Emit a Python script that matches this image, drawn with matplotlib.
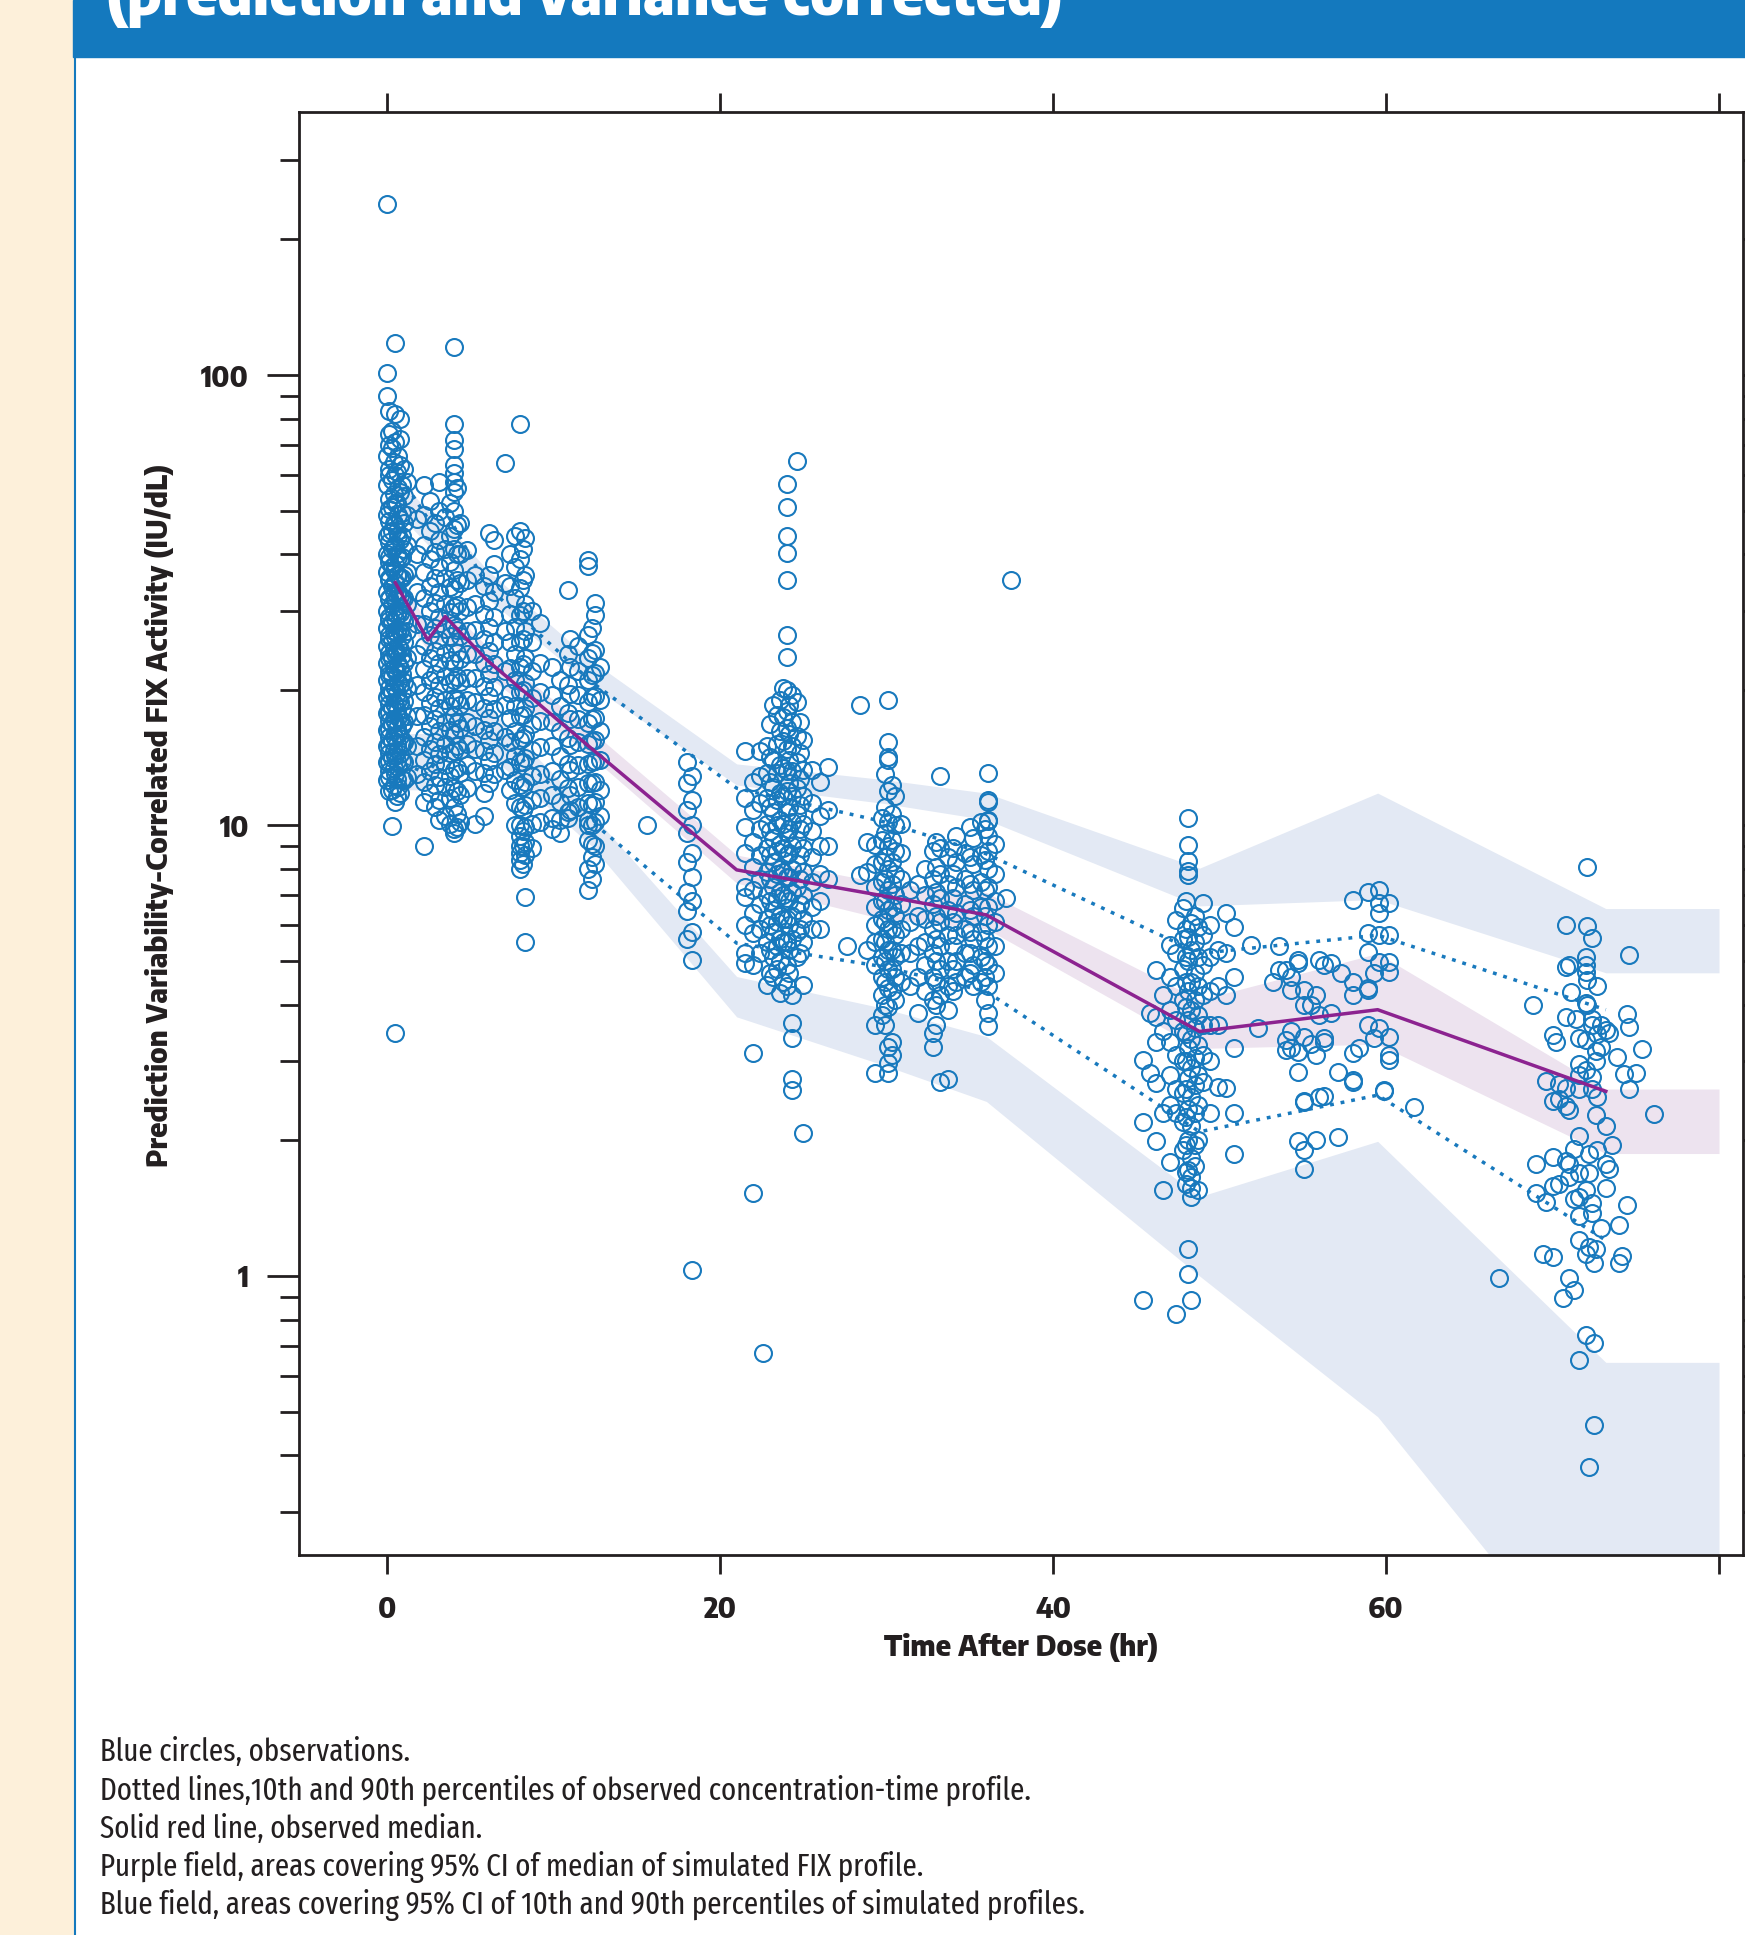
import matplotlib
matplotlib.use("Agg")
import matplotlib.pyplot as plt
from matplotlib import font_manager
from matplotlib.font_manager import FontProperties
from matplotlib.textpath import TextPath
from matplotlib.patches import Rectangle
from matplotlib.lines import Line2D


# ---------- font: among the installed condensed sans faces, take the one whose
# proportions (sample width / cap height) are closest to the original's
def shape_ratio(path, sample):
    prop = FontProperties(fname=path)
    w = TextPath((0, 0), sample, size=100, prop=prop).get_extents().width
    h = TextPath((0, 0), "H", size=100, prop=prop).get_extents().height
    return w / h


def choose_font(bold, sample, target):
    best = None
    seen = set()
    for f in font_manager.fontManager.ttflist:
        nm = f.name.lower()
        cond = ("narrow" in nm or "condensed" in nm
                or str(f.stretch) in ("condensed", "semi-condensed", "extra-condensed", "ultra-condensed"))
        if not cond or f.style != "normal" or f.fname in seen:
            continue
        if any(k in nm for k in ("mono", "serif", "cjk", "math", "symbol", "emoji", "display")):
            continue
        w = f.weight if isinstance(f.weight, int) else font_manager.weight_dict.get(f.weight, 400)
        if bold and not (600 <= w <= 800):
            continue
        if not bold and not (350 <= w <= 500):
            continue
        seen.add(f.fname)
        if len(seen) > 30:
            break
        try:
            r = shape_ratio(f.fname, sample)
        except Exception:
            continue
        score = abs(r - target)
        if best is None or score < best[0]:
            best = (score, f.fname)
    return best[1] if best else None


bold_file = choose_font(True, "Time After Dose (hr)", 275 / 22.0)
reg_file = choose_font(False, "Blue field, areas covering 95% CI of 10th", 488 / 22.7)


def fp(bold=False):
    path = bold_file if bold else reg_file
    if path:
        return FontProperties(fname=path)
    return FontProperties(family="DejaVu Sans", weight="bold" if bold else "normal")


# ---------------- data ----------------
# observations: (time after dose, [FIX activity values])
obs_0h = [
    (0.0, [240, 101, 90, 66, 57, 49, 44, 40, 36.5, 33, 30, 27.5, 25, 23, 21, 19.3, 17.8, 16.3, 15, 13.8, 12.6]),
    (0.1, [70, 60, 50.5, 44.5, 39.5, 35.5, 31.8, 28.6, 25.9, 23.6, 21.6, 19.6, 17.9, 16.4, 15.1, 13.9, 12.8, 11.9]),
    (0.15, [83, 74, 62, 53, 47.5, 42.5, 38.5, 35, 32, 29, 26.5, 24.2, 22, 20.2, 18.6, 17.1, 15.7, 14.5, 13.2]),
    (0.3, [75, 69, 58.5, 51, 45, 41, 37.5, 34, 31, 28.3, 25.8, 23.5, 21.5, 19.8, 18.2, 16.8, 15.4, 14.1, 12, 9.95]),
    (0.4, [64, 54.5, 47, 41.5, 37, 33, 29.8, 27, 24.6, 22.4, 20.4, 18.7, 17.2, 15.8, 14.6, 13.4, 12.3]),
    (0.5, [118, 82, 71, 60, 52, 46.5, 42, 38, 34.8, 31.6, 28.8, 26.2, 24, 22, 20.2, 18.5, 17, 15.6, 14.3, 13, 11.3, 3.46]),
    (0.58, [61, 52, 45, 40, 36, 32.5, 29.3, 26.6, 24.2, 21.8, 19.7, 18, 16.5, 15.2, 13.9, 12.7, 11.6]),
    (0.65, [66, 56, 49, 44, 39.5, 36, 33, 30, 27.3, 25, 22.8, 20.8, 19, 17.4, 16, 14.7, 13.5, 12.2]),
    (0.8, [80, 72, 63, 55, 48, 43, 39, 35.5, 32.4, 29.6, 27, 24.6, 22.4, 20.5, 18.8, 17.2, 15.8, 14.4, 11.8]),
    (0.9, [57, 49.5, 44, 39.5, 35.5, 32, 29, 26.3, 23.9, 21.7, 19.8, 18.1, 16.6, 15.2, 13.9, 12.7]),
    (1.0, [62, 54, 47, 41, 36, 32, 28.5, 25.5, 23, 20.8, 18.9, 17, 15.3, 13.8, 12.6]),
    (1.2, [58, 49, 42, 36.5, 31, 27, 23.5, 20.2, 17.5, 15, 12.8]),
]
obs_3h = [
    (1.8, [48, 40, 33, 28, 24, 20.5, 17.5, 15, 13]),
    (2.2, [57, 49, 42, 36.5, 32, 28, 25, 22.2, 19.8, 17.6, 15.7, 14, 12.5, 11.3, 9.0]),
    (2.6, [52.5, 45, 39, 34, 30, 26.5, 23.5, 21, 18.7, 16.6, 14.8, 13.2, 11.8]),
    (2.9, [47, 40.5, 35.5, 31.2, 27.5, 24.4, 21.7, 19.3, 17.2, 15.3, 13.7, 12.3, 11]),
    (3.1, [58, 50, 43, 37.5, 33, 29, 25.8, 23, 20.5, 18.2, 16.2, 14.4, 12.8, 11.4, 10.3]),
    (3.5, [48.4, 41, 35.5, 31, 27.3, 24.2, 21.5, 19, 17, 15.2, 13.6, 12.2, 10.5]),
    (3.8, [52, 44, 38.5, 33.8, 29.8, 26.3, 23.3, 20.7, 18.4, 16.3, 14.5, 12.9, 11.5, 10.1]),
    (4.0, [115.6, 77.8, 71.7, 68.5, 63, 60.6, 58, 55.1, 50, 45.5, 41, 37, 33.5, 30.5, 27.8, 25.3, 23, 21,
           19.2, 17.5, 16, 14.6, 13.3, 12.1, 11, 9.8, 9.6]),
    (4.2, [56, 46.5, 40, 35, 30.8, 27.2, 24.1, 21.4, 19, 16.9, 15, 13.4, 11.9, 10.6, 9.9]),
    (4.4, [47, 40, 34.5, 30, 26.4, 23.4, 20.8, 18.5, 16.5, 14.7, 13.1, 11.7, 10.2]),
    (4.8, [40.9, 35, 30.5, 27, 24, 21.3, 19, 17, 15.2, 13.6, 12.1]),
    (5.3, [36, 31, 27.2, 24, 21.2, 18.8, 16.6, 14.8, 13.2, 10.1]),
]
obs_8h = [
    (5.8, [34, 29.5, 26, 23, 20.4, 18.2, 16.3, 14.6, 13.1, 11.8, 10.5]),
    (6.1, [44.6, 36, 31.5, 27.6, 24.4, 21.7, 19.4, 17.3, 15.5, 13.9, 12.4]),
    (6.4, [43, 38, 33, 29, 25.6, 22.8, 20.3, 18.1, 16.2, 14.5, 13]),
    (7.1, [63.7, 34.5, 27, 22, 18.5, 15.7, 13.3]),
    (7.4, [40, 34, 29.5, 25.6, 22.4, 19.7, 17.3, 15.3, 13.5, 12]),
    (7.7, [44, 37.5, 32, 27.6, 24, 21, 18.4, 16.2, 14.3, 12.6, 11.2, 10]),
    (8.0, [77.8, 45, 39, 33.7, 29.3, 25.6, 22.5, 19.8, 17.5, 15.5, 13.8, 12.3, 11, 10, 9.5, 9.0, 8.7, 8.4, 8.0]),
    (8.15, [41, 35, 30, 26, 22.8, 20, 17.6, 15.6, 13.8, 12.2, 10.8, 9.7, 9.0, 8.2]),
    (8.3, [43.5, 36, 31, 27, 23.6, 20.7, 18.2, 16, 14.1, 12.5, 11.1, 9.9, 9.2, 8.6, 6.95, 5.5]),
    (8.7, [30, 25.5, 22, 19.2, 16.8, 14.7, 12.9, 11.4, 10.1, 8.9]),
    (9.2, [28.1, 23, 19.8, 17.1, 14.9, 13, 11.5, 10.2]),
]
obs_12h = [
    (9.9, [22.5, 19.5, 17, 15, 13.2, 11.7, 10.4, 9.8]),
    (10.4, [21, 18.4, 16.2, 14.3, 12.7, 11.3, 10.3, 9.6]),
    (10.9, [33.3, 24, 20.5, 17.8, 15.6, 13.7, 12.1, 10.7, 10.4]),
    (11.0, [26, 22.5, 19.6, 17.2, 15.1, 13.3, 11.7, 10.8]),
    (11.5, [25, 22, 19.5, 17.2, 15.3, 13.6, 12.2, 11]),
    (12.1, [38.8, 37.6, 26.5, 23.5, 21, 18.8, 16.9, 15.2, 13.7, 12.4, 11.2, 10.3, 10, 9.3, 8.0, 7.19]),
    (12.3, [27.5, 24.2, 21.6, 19.3, 17.2, 15.4, 13.8, 12.4, 11.1, 10, 9.1, 8.5, 7.6]),
    (12.5, [31.2, 29.3, 24.5, 21.8, 19.4, 17.3, 15.5, 13.9, 12.5, 11.3, 10.2, 9, 8.2]),
    (12.8, [22.5, 19, 16.2, 14, 12, 10.5]),
]
obs_18h = [
    (15.6, [10.0]),
    (18.0, [13.8, 12.4, 10.8, 9.6, 8.3, 7.1, 6.45, 5.6]),
    (18.3, [12.9, 11.4, 10.0, 8.7, 7.7, 6.8, 5.8, 5.03, 1.03]),
]
obs_24h = [
    (21.5, [14.6, 11.5, 9.9, 8.7, 7.3, 6.95, 6.0, 5.2, 4.95]),
    (22.0, [12.5, 10.8, 9.2, 8.1, 7.2, 6.4, 5.77, 4.9, 3.13, 1.53]),
    (22.4, [14.6, 12.9, 11.2, 9.8, 8.6, 7.6, 6.7, 5.9, 5.2]),
    (22.6, [0.676]),
    (22.8, [15, 13.1, 11.5, 10.1, 8.9, 7.9, 7, 6.2, 5.5, 4.43]),
    (23.0, [16.8, 14.2, 12.5, 11, 9.7, 8.6, 7.6, 6.8, 6, 5.3, 4.7]),
    (23.2, [18.5, 14, 12.2, 10.7, 9.4, 8.3, 7.3, 6.5, 5.8, 5.1, 4.6]),
    (23.4, [17.6, 15.2, 13.1, 11.4, 10, 8.8, 7.8, 6.9, 6.1, 5.4, 4.8]),
    (23.6, [19, 16.2, 13.6, 11.8, 10.3, 9.1, 8, 7.1, 6.3, 5.6, 5.0, 4.25]),
    (23.8, [20.2, 17.4, 15.4, 13.4, 11.6, 10.1, 8.9, 7.9, 7, 6.2, 5.5, 4.5]),
    (24.0, [57.2, 51, 44, 40.2, 35.1, 26.5, 23.7, 20, 18, 16.5, 14.8, 13.2, 11.9, 10.7, 9.6, 8.6, 7.7, 6.9,
            6.2, 5.5, 4.9, 4.4]),
    (24.15, [18.5, 16, 14, 12.4, 11, 9.8, 8.7, 7.7, 6.8, 6, 5.3, 4.7]),
    (24.3, [19.5, 17, 15, 13.2, 11.6, 10.2, 9, 8, 7.1, 6.3, 5.6, 4.2, 3.64, 3.37, 2.73, 2.59]),
    (24.6, [64.5, 18.8, 15.8, 13.8, 12.1, 10.6, 9.3, 8.2, 7.3, 6.5, 5.8, 5.1]),
    (24.8, [17, 14.5, 12.7, 11.1, 9.8, 8.6, 7.6, 6.7, 5.9, 5.2]),
    (25.0, [15.5, 13.3, 11.6, 10.1, 8.9, 7.9, 7, 6.2, 5.5, 4.43, 2.08]),
    (25.5, [13.3, 11.2, 9.7, 8.5, 7.5, 6.6, 5.9]),
    (26.0, [12.5, 10.5, 9, 7.8, 6.8, 5.9]),
    (26.5, [13.5, 10.8, 9, 7.6]),
]
obs_30h = [
    (27.6, [5.4]),
    (28.4, [18.5, 7.77]),
    (28.8, [9.2, 7.9, 5.3]),
    (29.3, [9.05, 8.2, 7.3, 6.6, 6.0, 5.5, 4.9, 3.6, 2.82]),
    (29.7, [10.4, 9.3, 8.3, 7.5, 6.8, 6.2, 5.6, 5.1, 4.6, 4.2, 3.8]),
    (29.9, [13, 11, 9.6, 8.5, 7.6, 6.8, 6.1, 5.5, 5, 4.5, 4.0, 3.6]),
    (30.1, [19.0, 15.3, 14.2, 14.0, 11.9, 10.2, 9.0, 8.0, 7.2, 6.5, 5.9, 5.3, 4.8, 4.35, 3.95, 3.23, 2.97, 2.82]),
    (30.3, [12.3, 10.6, 9.3, 8.3, 7.4, 6.6, 5.9, 5.3, 4.8, 4.3, 3.3, 3.1]),
    (30.5, [11.6, 10.0, 8.8, 7.8, 7.0, 6.3, 5.7, 5.1, 4.6, 4.1]),
    (30.9, [10.1, 8.7, 7.6, 6.7, 5.9, 5.2, 4.5]),
    (31.4, [7.2, 6.1, 5.2, 4.4]),
]
obs_34h = [
    (31.9, [7.4, 6.3, 5.4, 4.6, 3.83]),
    (32.3, [8.0, 7.0, 6.2, 5.5, 4.9, 4.3]),
    (32.8, [8.8, 7.6, 6.7, 5.9, 5.2, 4.6, 4.1, 3.46, 3.23]),
    (33.0, [9.2, 8.1, 7.1, 6.3, 5.6, 5.0, 4.5, 4.0, 3.6]),
    (33.2, [12.9, 8.9, 7.8, 6.9, 6.1, 5.4, 4.8, 4.2, 2.70]),
    (33.7, [8.5, 7.4, 6.5, 5.7, 5.0, 4.4, 3.9, 2.73]),
    (34.0, [8.9, 7.8, 6.9, 6.1, 5.4, 4.8, 4.3]),
    (34.2, [9.5, 8.3, 7.3, 6.4, 5.7, 5.0, 4.5]),
    (34.7, [8.7, 7.6, 6.7, 5.9, 5.2, 4.6]),
    (35.0, [9.9, 8.5, 7.4, 6.5, 5.8, 5.2, 4.7]),
    (35.2, [9.4, 8.2, 7.2, 6.3, 5.6, 4.9, 4.4]),
    (35.7, [10.2, 8.6, 7.5, 6.6, 5.8, 5.1, 4.5]),
    (35.9, [9.8, 8.4, 7.2, 6.3, 5.6, 5.0, 4.6, 4.1]),
    (36.1, [13.1, 11.4, 11.3, 10.3, 10.25, 9.5, 8.8, 8.0, 7.3, 6.6, 6.0, 5.4, 4.9, 4.4, 3.83, 3.58]),
    (36.5, [9.1, 7.8, 6.8, 6.1, 5.4, 4.7]),
    (37.2, [6.9]),
    (37.5, [35.1]),
]
obs_48h = [
    (45.4, [3.02, 2.2, 0.885]),
    (45.8, [3.83, 2.82]),
    (46.2, [4.78, 3.76, 3.3, 2.68, 1.99]),
    (46.6, [4.2, 3.5, 2.3, 1.55]),
    (47.0, [5.43, 4.6, 3.9, 3.3, 2.8, 2.4, 1.79]),
    (47.4, [6.17, 5.2, 4.4, 3.7, 3.1, 2.6, 2.3, 0.822]),
    (47.8, [6.55, 5.6, 4.8, 4.1, 3.5, 3.0, 2.55, 2.2, 1.9]),
    (48.0, [6.8, 5.9, 5.1, 4.5, 3.95, 3.45, 3.0, 2.6, 2.25, 1.95, 1.7, 1.6]),
    (48.1, [10.4, 9.05, 8.36, 7.94, 7.77, 5.66, 5.0, 4.3, 3.7, 3.2, 2.75, 2.35, 2.0, 1.72, 1.15, 1.01]),
    (48.3, [6.07, 5.3, 4.5, 3.9, 3.35, 2.9, 2.5, 2.15, 1.83, 1.66, 1.57, 1.50, 0.885]),
    (48.5, [6.3, 5.5, 4.7, 4.1, 3.55, 3.05, 2.65, 2.3, 1.95, 1.75]),
    (48.7, [5.95, 5.1, 4.4, 3.8, 3.25, 2.8, 2.4, 2.0, 1.55]),
    (49.0, [6.73, 5.7, 4.9, 4.2, 3.6, 3.1, 2.7]),
    (49.4, [6.0, 5.1, 4.3, 3.6, 3.0, 2.3]),
    (49.9, [5.3, 4.4, 3.6, 2.63]),
    (50.4, [6.38, 5.2, 4.2, 2.61]),
    (50.9, [5.96, 4.6, 3.2, 2.3, 1.87]),
]
obs_56h = [
    (51.9, [5.43]),
    (52.3, [3.55]),
    (53.2, [4.5]),
    (53.6, [4.78, 5.4]),
    (54.0, [4.78, 3.34, 3.18]),
    (54.3, [4.6, 3.5, 3.2, 4.31]),
    (54.7, [5.03, 4.95, 3.14, 2.84, 1.99]),
    (55.1, [4.31, 4.0, 3.4, 2.45, 2.43, 1.90, 1.73]),
    (55.5, [4.0, 3.27]),
    (55.8, [4.2, 3.1, 2.0]),
    (56.0, [5.03, 3.79, 2.5]),
    (56.3, [4.9, 3.38, 3.3, 2.51]),
    (56.7, [4.95, 3.83]),
    (57.1, [2.84, 2.03]),
    (57.3, [4.7]),
    (58.0, [6.83, 4.5, 4.2, 3.13, 2.72, 2.70]),
    (58.4, [3.2]),
    (58.9, [7.13, 5.76, 5.25, 4.36, 4.31, 3.6]),
    (59.3, [4.7, 3.37]),
    (59.6, [7.2, 6.72, 6.38, 5.71, 4.98, 3.55]),
    (59.9, [2.59, 2.57]),
    (60.2, [6.72, 5.71, 4.74, 4.98, 3.4, 3.1, 3.02]),
    (61.7, [2.37]),
]
obs_72h = [
    (66.8, [0.99]),
    (68.8, [3.99]),
    (69.0, [1.53, 1.77]),
    (69.4, [1.12]),
    (69.6, [2.71, 1.46]),
    (70.0, [3.42, 1.84, 1.58, 1.10, 2.44]),
    (70.2, [3.30]),
    (70.4, [2.67, 2.47, 1.6]),
    (70.6, [0.895]),
    (70.8, [6.02, 4.85, 3.76, 2.62, 1.80, 2.39]),
    (71.0, [4.9, 0.99, 2.33, 1.77, 1.66]),
    (71.1, [4.27]),
    (71.3, [0.93, 1.91, 1.48]),
    (71.4, [3.72]),
    (71.6, [2.95, 2.80, 3.37, 2.60, 1.69, 1.36, 1.2, 0.65, 1.5, 2.04]),
    (72.0, [5.1, 4.9, 4.73, 4.03, 3.34, 2.86, 1.55, 1.12, 0.738]),
    (72.1, [8.09, 5.98, 4.55, 3.99]),
    (72.2, [0.376, 1.87, 1.69, 1.16]),
    (72.4, [5.62, 3.72, 3.60, 2.77, 2.60, 1.38, 1.45]),
    (72.5, [0.467, 0.71, 1.07]),
    (72.6, [3.15, 3.0, 2.28, 1.15]),
    (72.7, [4.4, 3.44, 2.5, 1.90]),
    (72.9, [3.60, 3.22, 1.28]),
    (73.2, [3.52, 2.15, 1.77, 1.57]),
    (73.4, [3.46, 1.73]),
    (73.6, [1.95]),
    (73.9, [3.06]),
    (74.0, [1.07, 1.30]),
    (74.2, [1.11]),
    (74.3, [2.81]),
    (74.5, [3.82, 1.44]),
    (74.6, [5.16, 3.57, 2.60]),
    (75.0, [2.82]),
    (75.4, [3.19]),
    (76.1, [2.29]),
]

# summary curves, same time grid
grid_t = [0.5, 2.45, 3.5, 6.0, 12.3, 21.0, 29.8, 36.0, 48.8, 59.5, 73.2, 80.0]
obs_median = [34.6, 25.8, 29.1, 23.3, 14.8, 7.97, 6.98, 6.33, 3.49, 3.90, 2.57]
obs_p90 = [62, 48, 50, 34, 20.8, 12.1, 10.2, 8.65, 5.2, 5.71, 3.9]
obs_p10 = [14, 13, 15, 16.5, 10.2, 5.48, 4.86, 4.28, 2.09, 2.52, 1.2]
# simulated 95% CIs
sim_p90_lo = [50, 42, 40, 32, 20.4, 12.3, 11.2, 10.3, 6.63, 6.85, 4.71, 4.71]
sim_p90_hi = [60, 50, 47, 37, 23.2, 13.7, 12.65, 11.8, 8.04, 11.8, 6.54, 6.54]
sim_med_lo = [31, 24.5, 26, 21.5, 14.2, 7.45, 6.2, 5.9, 3.2, 3.27, 1.87, 1.87]
sim_med_hi = [37, 28, 31, 25, 16.2, 8.6, 7.45, 7.1, 4.1, 5.2, 2.60, 2.60]
sim_p10_lo = [12, 12, 14, 14.5, 9.0, 3.76, 2.94, 2.44, 1.0, 0.487, 0.115, 0.115]
sim_p10_hi = [16, 16, 18, 18.5, 10.6, 4.62, 3.93, 3.4, 1.5, 1.99, 0.643, 0.643]

caption = [
    "Blue circles, observations.",
    "Dotted lines,10th and 90th percentiles of observed concentration-time profile.",
    "Solid red line, observed median.",
    "Purple field, areas covering 95% CI of median of simulated FIX profile.",
    "Blue field, areas covering 95% CI of 10th and 90th percentiles of simulated profiles.",
]

# colours
blue = "#1879bd"
header_blue = "#1479be"
cream = "#fdf0da"
band_blue = "#e3e9f4"
band_purple = "#ede3ef"
purple = "#8c2390"
dark = "#231f20"

W, H = 1745, 1935
fig = plt.figure(figsize=(W / 100, H / 100), dpi=100)
renderer = fig.canvas.get_renderer()


def fit(txt, target_px, vertical=False):
    # scale font size so the text spans the same length as in the original
    bb = txt.get_window_extent(renderer=renderer)
    cur = bb.height if vertical else bb.width
    txt.set_fontsize(txt.get_fontsize() * target_px / cur)


# page decoration
fig.add_artist(Rectangle((0, 0), 73 / W, 1, transform=fig.transFigure, color=cream, zorder=0))
fig.add_artist(Rectangle((73 / W, 1 - 57 / H), 1 - 73 / W, 57 / H, transform=fig.transFigure,
                         color=header_blue, zorder=0))
fig.add_artist(Line2D([74.5 / W, 74.5 / W], [0, 1 - 57 / H], transform=fig.transFigure,
                      color=header_blue, lw=1.5))
title = fig.text(106 / W, 1 - 15 / H, "(prediction and variance corrected)", color="white",
                 fontproperties=fp(True), fontsize=50, va="baseline", ha="left")
fit(title, 957)

ax = fig.add_axes([299 / W, 1 - 1555 / H, 1444 / W, 1443 / H])
ax.set_yscale("log")

# bands
ax.fill_between(grid_t, sim_p90_lo, sim_p90_hi, color=band_blue, lw=0, zorder=1)
ax.fill_between(grid_t, sim_p10_lo, sim_p10_hi, color=band_blue, lw=0, zorder=1)
ax.fill_between(grid_t, sim_med_lo, sim_med_hi, color=band_purple, lw=0, zorder=1)

# observations
xs, ys = [], []
for cluster in [obs_0h, obs_3h, obs_8h, obs_12h, obs_18h, obs_24h, obs_30h, obs_34h,
                obs_48h, obs_56h, obs_72h]:
    for t, vals in cluster:
        for v in vals:
            xs.append(t)
            ys.append(v)
ax.plot(xs, ys, "o", ms=12.2, mfc="none", mec=blue, mew=1.5, zorder=2)

# observed percentiles and median
ax.plot(grid_t[:-1], obs_p90, color=blue, lw=2.5, ls=(0, (1.1, 2.0)), zorder=3)
ax.plot(grid_t[:-1], obs_p10, color=blue, lw=2.5, ls=(0, (1.1, 2.0)), zorder=3)
ax.plot(grid_t[:-1], obs_median, color=purple, lw=2.5, zorder=3)

ax.set_xlim(-5.285, 81.44)
ax.set_ylim(0.2402, 383.6)

ax.set_xticks([0, 20, 40, 60, 80])
ax.set_xticklabels(["0", "20", "40", "60", ""])
ax.set_yticks([1, 10, 100])
ax.set_yticklabels(["1", "10", "100"])
minor = [m * 10.0 ** k for k in (-1, 0, 1, 2) for m in range(2, 10)]
minor = [v for v in minor if 0.2402 < v < 383.6]
ax.set_yticks(minor, minor=True)
ax.yaxis.set_minor_formatter(plt.NullFormatter())
ax.xaxis.set_minor_locator(plt.NullLocator())

ax.tick_params(axis="x", which="major", direction="out", length=13.5, width=2, color=dark,
               top=True, bottom=True, labeltop=False, pad=15, labelcolor=dark)
ax.tick_params(axis="y", which="major", direction="out", length=23, width=2, color=dark,
               left=True, right=True, labelright=False, pad=13, labelcolor=dark)
ax.tick_params(axis="y", which="minor", direction="out", length=13.5, width=2, color=dark,
               left=True, right=True)

# tick labels: digits about 21.7 px tall as in the original
tick_fp = fp(True)
digit_h = TextPath((0, 0), "0", size=100, prop=tick_fp).get_extents().height / 100.0
tick_fp.set_size(21.7 * 0.72 / digit_h)
for lab in ax.get_xticklabels() + ax.get_yticklabels():
    lab.set_fontproperties(tick_fp)

for sp in ax.spines.values():
    sp.set_linewidth(2)
    sp.set_color(dark)

xl = fig.text(1021 / W, 1 - 1648 / H, "Time After Dose (hr)", fontproperties=fp(True), fontsize=24,
              ha="center", va="center", color=dark)
fit(xl, 275)
yl = fig.text(160 / W, 1 - 815 / H, "Prediction Variability-Correlated FIX Activity (IU/dL)",
              fontproperties=fp(True), fontsize=24, rotation=90, ha="center", va="center", color=dark)
fit(yl, 703, vertical=True)

cap_texts = []
for i, line in enumerate(caption):
    cap_texts.append(fig.text(100 / W, 1 - (1761 + 38.3 * i) / H, line, fontproperties=fp(False),
                              fontsize=21.5, va="baseline", ha="left", color=dark))
fit(cap_texts[-1], 988)
for t in cap_texts[:-1]:
    t.set_fontsize(cap_texts[-1].get_fontsize())

fig.savefig("out.png", dpi=100)
